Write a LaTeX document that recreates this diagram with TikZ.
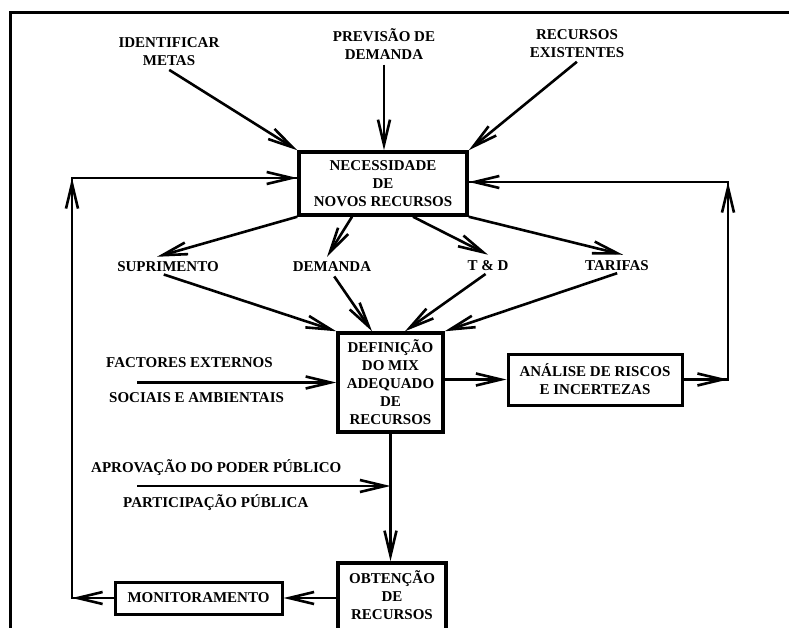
\documentclass[tikz,border=0pt]{standalone}
\usepackage{fontspec}
\setmainfont{Liberation Serif}
\usetikzlibrary{arrows.meta,calc}
\begin{document}
\begin{tikzpicture}[x=1pt,y=-1pt,
  every node/.style={font=\fontsize{15}{18}\selectfont\bfseries},
  lbl/.style={align=center, inner sep=1pt},
  box/.style={draw, line width=3.5pt, align=center, inner sep=0pt},
  conn/.style={line width=2.6pt},
  arr/.style={conn, -{Straight Barb[length=25pt,width=12pt]}},
]
\useasboundingbox (0,0) rectangle (789,628);
\clip (0,0) rectangle (789,628);
\fill[white] (0,0) rectangle (789,628);
\draw[line width=3pt] (10,628) -- (10,13) -- (789,13);

% top labels
\node[lbl] (idm) at (169,52) {IDENTIFICAR\\METAS};
\node[lbl] (prev) at (384,44) {PREVISÃO DE\\DEMANDA};
\node[lbl] (rex) at (577,44) {RECURSOS\\EXISTENTES};

% boxes
\node[box, minimum width=168pt, minimum height=63pt] (nec) at (383,183.5) {NECESSIDADE\\DE\\NOVOS RECURSOS};
\node[box, minimum width=105pt, minimum height=99pt] (def) at (390.5,382.5) {DEFINIÇÃO\\DO MIX\\ADEQUADO\\DE\\RECURSOS};
\node[box, line width=3pt, minimum width=174pt, minimum height=51pt] (ana) at (595,379.5) {ANÁLISE DE RISCOS\\E INCERTEZAS};
\node[box, minimum width=108pt, minimum height=74pt] (obt) at (392,600) {};
\node[lbl] (obttxt) at (392,595) {OBTENÇÃO\\DE\\RECURSOS};
\node[box, line width=3pt, minimum width=167pt, minimum height=32pt] (mon) at (198.5,598) {MONITORAMENTO};

% middle labels
\node[lbl] (sup) at (168,267) {SUPRIMENTO};
\node[lbl] (dem) at (332,267) {DEMANDA};
\node[lbl] (td) at (488,266) {T \& D};
\node[lbl] (tar) at (617,266) {TARIFAS};

% side labels
\node[lbl, anchor=west] (fac) at (105,363) {FACTORES EXTERNOS};
\node[lbl, anchor=west] (soc) at (108,398) {SOCIAIS E AMBIENTAIS};
\node[lbl, anchor=west] (apr) at (90,468) {APROVAÇÃO DO PODER PÚBLICO};
\node[lbl, anchor=west] (par) at (122,503) {PARTICIPAÇÃO PÚBLICA};

% helper coordinates
\coordinate (facin) at (137,382.5);
\coordinate (aprin) at (137,486);
\coordinate (rc1) at (728,379.5);
\coordinate (rc2) at (728,182);
\coordinate (lc1) at (72,598);
\coordinate (lc2) at (72,178);

% inputs to necessidade
\draw[arr, shorten <=5pt] ([xshift=-4pt]idm.south) -- (nec.north west);
\draw[arr, shorten <=4pt] (prev.south) -- (prev.south |- nec.north);
\draw[arr, shorten <=4pt] ([xshift=3pt]rex.south) -- (nec.north east);

% necessidade to middle labels
\draw[arr] (nec.south west) -- ([xshift=-11pt,yshift=4pt]sup.north);
\draw[arr] ([xshift=-31pt]nec.south) -- ([xshift=-5pt,yshift=4pt]dem.north);
\draw[arr] ([xshift=30pt]nec.south) -- ([yshift=5pt]td.north);
\draw[arr] (nec.south east) -- ([xshift=6pt,yshift=5pt]tar.north);

% middle labels to definicao
\draw[arr, shorten <=4pt] ([xshift=-8pt]sup.south) -- (def.north west);
\draw[arr, shorten <=4pt] (dem.south) -- ([xshift=-18.5pt]def.north);
\draw[arr, shorten <=3pt] (td.south) -- ([xshift=14.5pt]def.north);
\draw[arr, shorten <=3pt] ([xshift=3pt]tar.south) -- (def.north east);

% external factors
\draw[arr] (facin) -- (def.west);

% definicao to analise and feedback right
\draw[conn] (ana.east) -- (rc1) -- (rc2) -- (rc2 -| nec.east);
\draw[arr] (ana.west -| def.east) -- (ana.west);
\draw[arr] (ana.east) -- (rc1);
\draw[arr] (rc1) -- (rc2);
\draw[arr] (rc2) -- (rc2 -| nec.east);

% definicao to obtencao
\draw[arr] (def.south) -- (def.south |- obt.north);
\draw[arr] (aprin) -- (aprin -| def.south);

% obtencao to monitoramento and feedback left
\draw[arr] (mon.east -| obt.west) -- (mon.east);
\draw[conn] (mon.west) -- (lc1) -- (lc2) -- (lc2 -| nec.west);
\draw[arr] (mon.west) -- (lc1);
\draw[arr] (lc1) -- (lc2);
\draw[arr] (lc2) -- (lc2 -| nec.west);
\end{tikzpicture}
\end{document}
